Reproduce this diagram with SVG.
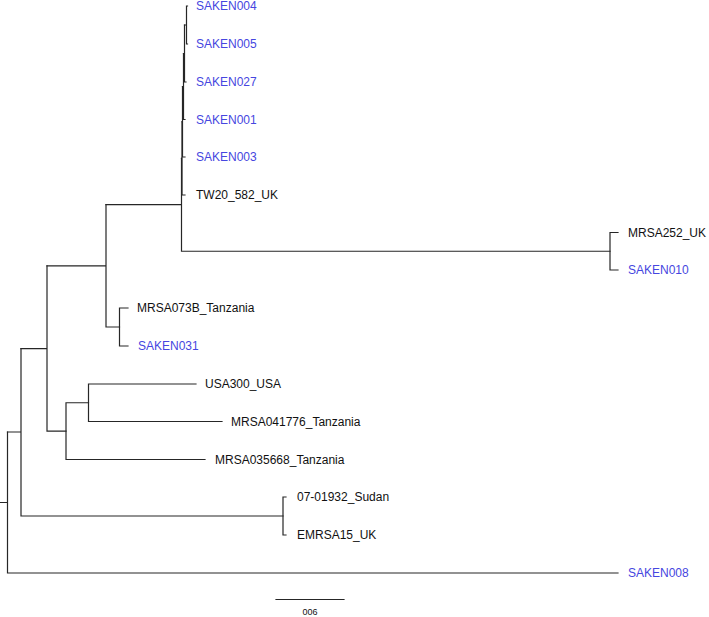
<svg xmlns="http://www.w3.org/2000/svg" width="709" height="617" viewBox="0 0 709 617">
<style>
.e{fill:none;stroke:#262626;stroke-width:1.2;stroke-linecap:square}
.t{font-family:"Liberation Sans",Arial,sans-serif;font-size:12px;fill:#111}
.b{fill:#4646e0}
.s{font-family:"Liberation Sans",Arial,sans-serif;font-size:9px;fill:#111}
</style>
<rect width="709" height="617" fill="#fff"/>
<g id="connectors">
<!-- root -->
<path class="e" d="M0,502.5H7.5M7.5,432V573H618"/>
<!-- M -->
<path class="e" d="M7.5,432H21M21,348.7V516H283"/>
<!-- N -->
<path class="e" d="M283,497V535M283,497H286M283,535H286"/>
<!-- J -->
<path class="e" d="M21,348.7H47M47,265.8V431.1H66"/>
<!-- K -->
<path class="e" d="M66,402.75V459.5H205M66,402.75H88.5"/>
<!-- L -->
<path class="e" d="M88.5,384V421.5M88.5,384H196M88.5,421.5H222"/>
<!-- H -->
<path class="e" d="M47,265.8H106M106,204.6V327H119.5"/>
<!-- I -->
<path class="e" d="M119.5,308V346M119.5,308H128M119.5,346H128"/>
<!-- F -->
<path class="e" d="M106,204.6H181.5M181.5,158.4V251.25H610"/>
<!-- G -->
<path class="e" d="M610,232.5V270M610,232.5H618M610,270H618"/>
<!-- E -->
<path class="e" d="M181.5,158.4H182M182,121.75V195H185"/>
<!-- D -->
<path class="e" d="M182,121.75H182.5M182.5,86.5V157H185"/>
<!-- C -->
<path class="e" d="M182.5,86.5H183.5M183.5,53.5V119.5H185"/>
<!-- B -->
<path class="e" d="M183.5,53.5H184.5M184.5,25V82H186"/>
<!-- A -->
<path class="e" d="M184.5,25H186.5M186.5,6V44H187.5M186.5,6H187.5"/>
</g>
<g id="SAKEN004"><text class="t b" x="196" y="10.3">SAKEN004</text></g>
<g id="SAKEN005"><text class="t b" x="196" y="48.3">SAKEN005</text></g>
<g id="SAKEN027"><text class="t b" x="196" y="86.3">SAKEN027</text></g>
<g id="SAKEN001"><text class="t b" x="196" y="123.8">SAKEN001</text></g>
<g id="SAKEN003"><text class="t b" x="196" y="161.3">SAKEN003</text></g>
<g id="TW20_582_UK"><text class="t" x="196" y="199.3">TW20_582_UK</text></g>
<g id="MRSA252_UK"><text class="t" x="628" y="236.8">MRSA252_UK</text></g>
<g id="SAKEN010"><text class="t b" x="628" y="274.3">SAKEN010</text></g>
<g id="MRSA073B_Tanzania"><text class="t" x="137" y="312.3">MRSA073B_Tanzania</text></g>
<g id="SAKEN031"><text class="t b" x="138" y="350.3">SAKEN031</text></g>
<g id="USA300_USA"><text class="t" x="205" y="388.3">USA300_USA</text></g>
<g id="MRSA041776_Tanzania"><text class="t" x="231" y="425.8">MRSA041776_Tanzania</text></g>
<g id="MRSA035668_Tanzania"><text class="t" x="215" y="463.8">MRSA035668_Tanzania</text></g>
<g id="n07-01932_Sudan"><text class="t" x="297" y="501.3">07-01932_Sudan</text></g>
<g id="EMRSA15_UK"><text class="t" x="297" y="539.3">EMRSA15_UK</text></g>
<g id="SAKEN008"><text class="t b" x="628" y="577.3">SAKEN008</text></g>
<g id="scale">
<path class="e" d="M276,599.5H344"/>
<text class="s" x="310" y="614.5" text-anchor="middle">006</text>
</g>
</svg>
